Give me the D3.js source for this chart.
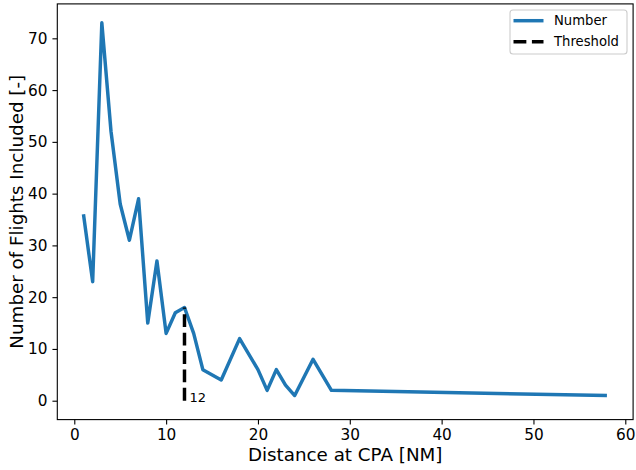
<!DOCTYPE html>
<html>
<head>
<meta charset="utf-8">
<script src="https://cdn.jsdelivr.net/npm/d3@7"></script>
<style>
  html, body { margin: 0; padding: 0; background: #fff; }
  svg { display: block; font-family: "DejaVu Sans", sans-serif; }
</style>
</head>
<body>
<svg id="chart" width="636" height="470"></svg>
<script>
// Data
const distances = [1, 2, 3, 4, 5, 6, 7, 8, 9, 10, 11, 12, 13, 14, 16, 18, 20, 21, 22, 23, 24, 26, 28, 58];
const counts    = [36, 23, 73, 52, 38, 31, 39, 15, 27, 13, 17, 18, 13, 6, 4, 12, 6, 2, 6, 3, 1, 8, 2, 1];
const thresholdX = [12, 12];
const thresholdY = [0, 18];
const thresholdLabel = "12";
const xTicks = [0, 10, 20, 30, 40, 50, 60];
const yTicks = [0, 10, 20, 30, 40, 50, 60, 70];
const legendLabels = ["Number", "Threshold"];
const xLabel = "Distance at CPA [NM]";
const yLabel = "Number of Flights Included [-]";

const svg = d3.select("#chart");
const L = 57.3, R = 633.1, T = 3.9, B = 419.6;
const blue = "#1f77b4";
const lw = 3.47;

const x = d3.scaleLinear().domain([-1.85, 60.85]).range([L, R]);
const y = d3.scaleLinear().domain([-3.65, 76.65]).range([B, T]);

// Axes
const xAxis = d3.axisBottom(x).tickValues(xTicks).tickFormat(d3.format("d")).tickSize(4.86).tickPadding(4.86);
const yAxis = d3.axisLeft(y).tickValues(yTicks).tickFormat(d3.format("d")).tickSize(4.86).tickPadding(4.86);

const gx = svg.append("g").attr("transform", `translate(0,${B})`).call(xAxis);
const gy = svg.append("g").attr("transform", `translate(${L},0)`).call(yAxis);
[gx, gy].forEach(g => {
  g.select(".domain").remove();
  g.selectAll(".tick line").attr("stroke", "#000").attr("stroke-width", 1.1);
  g.selectAll(".tick text").attr("fill", "#000").style("font-size", "15.3px").style("font-family", "DejaVu Sans");
});

// Data lines
const line = d3.line().x(d => x(d[0])).y(d => y(d[1]));
svg.append("path")
  .datum(distances.map((d, i) => [d, counts[i]]))
  .attr("d", line)
  .attr("fill", "none")
  .attr("stroke", blue)
  .attr("stroke-width", lw)
  .attr("stroke-linejoin", "round")
  .attr("stroke-linecap", "butt");

svg.append("path")
  .datum(thresholdX.map((d, i) => [d, thresholdY[i]]))
  .attr("d", line)
  .attr("fill", "none")
  .attr("stroke", "#000")
  .attr("stroke-width", lw)
  .attr("stroke-dasharray", "12.85,5.56");

svg.append("text")
  .attr("x", x(thresholdX[0]) + 5)
  .attr("y", y(0))
  .attr("dy", "0.1em")
  .style("font-size", "13px")
  .attr("fill", "#000")
  .text(thresholdLabel);

// Frame
svg.append("rect")
  .attr("x", L).attr("y", T).attr("width", R - L).attr("height", B - T)
  .attr("fill", "none").attr("stroke", "#000").attr("stroke-width", 1.1);

// Axis labels
svg.append("text")
  .attr("x", (L + R) / 2).attr("y", 461)
  .attr("text-anchor", "middle")
  .style("font-size", "18.3px")
  .attr("fill", "#000")
  .text(xLabel);

svg.append("text")
  .attr("transform", `translate(23,${(T + B) / 2}) rotate(-90)`)
  .attr("text-anchor", "middle")
  .style("font-size", "18.3px")
  .attr("fill", "#000")
  .text(yLabel);

// Legend
const lg = svg.append("g");
lg.append("rect")
  .attr("x", 510).attr("y", 10).attr("width", 117).attr("height", 44)
  .attr("rx", 3).attr("ry", 3)
  .attr("fill", "#fff").attr("fill-opacity", 0.8)
  .attr("stroke", "#cccccc").attr("stroke-width", 1.1);
const legendStyles = [{ c: blue, dash: null }, { c: "#000", dash: "12.85,5.56" }];
legendLabels.forEach((lab, i) => {
  const cy = 20.7 + i * 21;
  lg.append("line")
    .attr("x1", 513.5).attr("x2", 543.5).attr("y1", cy).attr("y2", cy)
    .attr("stroke", legendStyles[i].c).attr("stroke-width", lw)
    .attr("stroke-dasharray", legendStyles[i].dash);
  lg.append("text")
    .attr("x", 554).attr("y", cy).attr("dy", "0.35em")
    .style("font-size", "13.2px").attr("fill", "#000")
    .text(lab);
});
</script>
</body>
</html>
